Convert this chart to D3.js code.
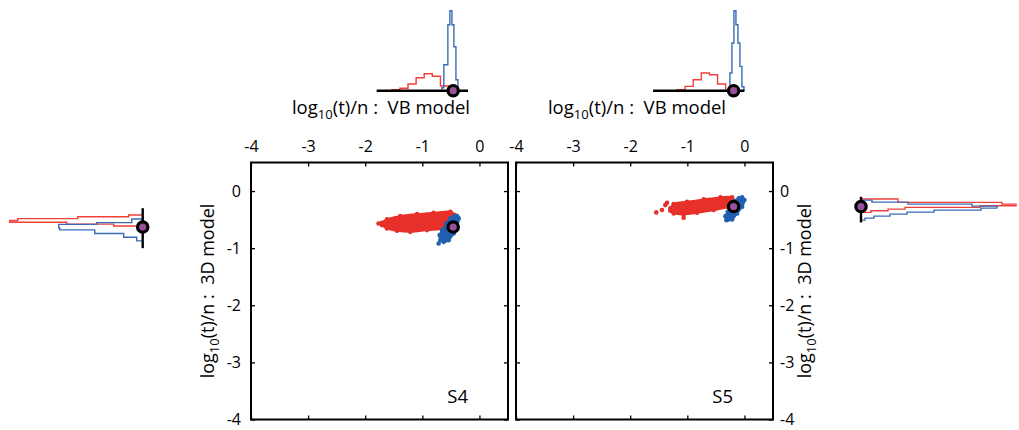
<!DOCTYPE html>
<html>
<head>
<meta charset="utf-8">
<script src="https://cdn.jsdelivr.net/npm/d3@7"></script>
<style>
  body { margin: 0; background: #fff; }
  svg { display: block; }
  text { font-family: "Open Sans", "Noto Sans", sans-serif; fill: #000; }
</style>
</head>
<body>
<svg id="chart" width="1019" height="430"></svg>
<script>
// ---- axis ticks ----
const tickValues = [-4, -3, -2, -1, 0];
const tickLabels = ["-4", "-3", "-2", "-1", "0"];
const panelNames = ["S4", "S5"];

// ---- posterior sample clouds: outline [VB, 3D] in log10(t)/n ----
const s4RedCloud = [[-1.707,-0.556],[-1.619,-0.496],[-1.386,-0.439],[-1.093,-0.404],[-0.802,-0.381],[-0.509,-0.363],[-0.433,-0.421],[-0.509,-0.567],[-0.626,-0.654],[-0.918,-0.684],[-1.211,-0.714],[-1.444,-0.696],[-1.619,-0.654],[-1.707,-0.596]];
const s4RedStray = [[-1.767,-0.567]];
const s4BlueCloud = [[-0.391,-0.439],[-0.363,-0.479],[-0.391,-0.626],[-0.451,-0.742],[-0.539,-0.860],[-0.626,-0.889],[-0.684,-0.860],[-0.696,-0.772],[-0.654,-0.684],[-0.579,-0.567],[-0.509,-0.479],[-0.439,-0.439]];
const s4BlueStray = [[-0.714,-0.918]];
const s5RedCloud = [[-1.298,-0.304],[-1.240,-0.228],[-1.005,-0.188],[-0.714,-0.146],[-0.421,-0.111],[-0.216,-0.111],[-0.198,-0.188],[-0.304,-0.275],[-0.539,-0.333],[-0.830,-0.381],[-1.065,-0.409],[-1.240,-0.391],[-1.298,-0.346]];
const s5RedStray = [[-1.544,-0.374],[-1.444,-0.333],[-1.386,-0.246],[-1.356,-0.205],[-1.065,-0.468]];
const s5BlueCloud = [[-0.040,-0.111],[0.000,-0.158],[-0.040,-0.275],[-0.128,-0.391],[-0.216,-0.496],[-0.316,-0.509],[-0.333,-0.439],[-0.293,-0.363],[-0.246,-0.275],[-0.158,-0.170],[-0.100,-0.128]];
const s5BlueStray = [];

// best-fit point [VB, 3D]
const s4Best = [-0.46, -0.63];
const s5Best = [-0.19, -0.27];

// ---- marginal histograms: bin edges and counts ----
const s4TopRedEdges = [-1.535,-1.393,-1.251,-1.109,-0.967,-0.825,-0.683,-0.541,-0.399];
const s4TopRedCounts = [1, 2.4, 6.7, 13, 17, 14.4, 4.7, 1];
const s4TopBlueEdges = [-0.658,-0.623,-0.588,-0.553,-0.518,-0.482,-0.447,-0.412,-0.377];
const s4TopBlueCounts = [3, 26, 26, 66, 80, 66, 44, 11];
const s5TopRedEdges = [-1.181,-1.039,-0.897,-0.755,-0.613,-0.471,-0.329];
const s5TopRedCounts = [1, 4.3, 11, 17.7, 16, 6.7];
const s5TopBlueEdges = [-0.254,-0.219,-0.184,-0.149,-0.114,-0.079,-0.044,-0.009];
const s5TopBlueCounts = [17.7, 47.7, 80, 66, 47.7, 24.3, 4];

const s4SideRedEdges = [-0.611,-0.579,-0.547,-0.515,-0.483,-0.451,-0.419];
const s4SideRedCounts = [29, 76, 133, 125, 65, 14];
const s4SideBlueEdges = [-0.872,-0.840,-0.808,-0.776,-0.744,-0.712,-0.680,-0.648,-0.616,-0.584,-0.552,-0.520,-0.488];
const s4SideBlueCounts = [6, 6, 19, 19, 48, 48, 83, 84, 84, 46, 11, 11];
const s5SideRedEdges = [-0.374,-0.345,-0.316,-0.286,-0.257,-0.228,-0.199,-0.170,-0.140];
const s5SideRedCounts = [10, 27, 44, 119, 155, 141, 37, 37];
const s5SideBlueEdges = [-0.509,-0.474,-0.439,-0.404,-0.369,-0.334,-0.299,-0.264,-0.229,-0.194,-0.159];
const s5SideBlueCounts = [4, 13, 29, 46, 73, 120, 136, 111, 47, 11];

// histogram axis spans
const s4TopSpan = [-1.8, -0.2];
const s5TopSpan = [-1.6, 0.0];
const s4SideSpan = [-1.0, -0.3];
const s5SideSpan = [-0.55, -0.1];

// ---- styling ----
const RED = "#e8302a", BLUE = "#2160ae";
const RED_LINE = "#f0403a", BLUE_LINE = "#3a6db6";
const PURPLE = "#9a4f9b";

const svg = d3.select("#chart");
const domain = [-4, 0.5];
const size = 257, panelTop = 162.5;
const yScale = d3.scaleLinear().domain(domain).range([panelTop + size, panelTop]);
const xLeft = d3.scaleLinear().domain(domain).range([251, 251 + size]);
const xRight = d3.scaleLinear().domain(domain).range([516, 516 + size]);

// vertical count scale for the top histograms, horizontal for the side ones
const topBase = 90.7;
const topCount = d3.scaleLinear().domain([0, 80]).range([topBase, topBase - 80]);
const leftCount = d3.scaleLinear().domain([0, 133]).range([142.7, 142.7 - 133]);
const rightCount = d3.scaleLinear().domain([0, 155]).range([861, 861 + 155]);

function stepPoints(edges, counts) {
  const pts = [[edges[0], 0]];
  counts.forEach((c, i) => { pts.push([edges[i], c]); pts.push([edges[i + 1], c]); });
  pts.push([edges[edges.length - 1], 0]);
  return pts;
}

function topHist(x, edges, counts, color) {
  const line = d3.line().x(d => x(d[0])).y(d => topCount(d[1]));
  svg.append("path").attr("d", line(stepPoints(edges, counts)))
    .attr("fill", "none").attr("stroke", color).attr("stroke-width", 1.4);
}
function sideHist(cnt, edges, counts, color) {
  const line = d3.line().x(d => cnt(d[1])).y(d => yScale(d[0]));
  svg.append("path").attr("d", line(stepPoints(edges, counts)))
    .attr("fill", "none").attr("stroke", color).attr("stroke-width", 1.4);
}
function marker(cx, cy) {
  svg.append("circle").attr("cx", cx).attr("cy", cy).attr("r", 5.2)
    .attr("fill", PURPLE).attr("stroke", "#000").attr("stroke-width", 3.2);
}

function cloud(x, outline, stray, color) {
  const g = svg.append("g");
  const area = d3.line().x(d => x(d[0])).y(d => yScale(d[1]))
    .curve(d3.curveCatmullRomClosed.alpha(0.5));
  g.append("path").attr("d", area(outline)).attr("fill", color)
    .attr("stroke", color).attr("stroke-width", 2);
  g.selectAll("circle").data(outline.concat(stray)).join("circle")
    .attr("cx", d => x(d[0])).attr("cy", d => yScale(d[1])).attr("r", 2.3)
    .attr("fill", color);
}

function panel(x, name, red, redStray, blue, blueStray, best, labelSide) {
  const x0 = x.range()[0], x1 = x.range()[1];
  const y0 = panelTop, y1 = panelTop + size;

  cloud(x, red, redStray, RED);
  cloud(x, blue, blueStray, BLUE);
  marker(x(best[0]), yScale(best[1]));

  // frame with inward ticks on every side
  const fmt = (d, i) => tickLabels[i];
  svg.append("g").attr("transform", `translate(0,${y0})`)
    .call(d3.axisTop(x).tickValues(tickValues).tickFormat(fmt).tickSizeInner(-4).tickSizeOuter(0).tickPadding(11));
  svg.append("g").attr("transform", `translate(0,${y1})`)
    .call(d3.axisBottom(x).tickValues(tickValues).tickFormat("").tickSizeInner(-4).tickSizeOuter(0));
  svg.append("g").attr("transform", `translate(${x0},0)`)
    .call(d3.axisLeft(yScale).tickValues(tickValues).tickFormat(labelSide === "left" ? fmt : "").tickSizeInner(-4).tickSizeOuter(0).tickPadding(10));
  svg.append("g").attr("transform", `translate(${x1},0)`)
    .call(d3.axisRight(yScale).tickValues(tickValues).tickFormat(labelSide === "right" ? fmt : "").tickSizeInner(-4).tickSizeOuter(0).tickPadding(7));
  svg.selectAll(".domain").remove();
  svg.selectAll(".tick line").attr("stroke", "#000").attr("stroke-width", 1.3);
  svg.selectAll(".tick text").style("font-size", "16px").style("font-family", '"Open Sans", sans-serif');

  svg.append("rect").attr("x", x0).attr("y", y0).attr("width", x1 - x0).attr("height", y1 - y0)
    .attr("fill", "none").attr("stroke", "#000").attr("stroke-width", 2);

  svg.append("text").attr("x", x(-0.2)).attr("y", yScale(-3.6) + 6)
    .attr("text-anchor", "end").style("font-size", "18.5px").text(name);
}

function vbLabel(cx) {
  const t = svg.append("text").attr("x", cx).attr("y", 114)
    .attr("text-anchor", "middle").style("font-size", "18.5px");
  t.append("tspan").text("log");
  t.append("tspan").attr("dy", 5).style("font-size", "13px").text("10");
  t.append("tspan").attr("dy", -5).text("(t)/n :\u00a0 VB model");
}
function tdLabel(cx) {
  const t = svg.append("text")
    .attr("transform", `translate(${cx},${panelTop + size / 2}) rotate(-90)`)
    .attr("text-anchor", "middle").style("font-size", "18px");
  t.append("tspan").text("log");
  t.append("tspan").attr("dy", 5).style("font-size", "13px").text("10");
  t.append("tspan").attr("dy", -5).text("(t)/n :\u00a0 3D model");
}

// ---- S4 ----
panel(xLeft, panelNames[0], s4RedCloud, s4RedStray, s4BlueCloud, s4BlueStray, s4Best, "left");
topHist(xLeft, s4TopRedEdges, s4TopRedCounts, RED_LINE);
topHist(xLeft, s4TopBlueEdges, s4TopBlueCounts, BLUE_LINE);
svg.append("line").attr("x1", xLeft(s4TopSpan[0])).attr("x2", xLeft(s4TopSpan[1]))
  .attr("y1", topBase).attr("y2", topBase).attr("stroke", "#000").attr("stroke-width", 2.4);
marker(xLeft(s4Best[0]), topBase);
sideHist(leftCount, s4SideRedEdges, s4SideRedCounts, RED_LINE);
sideHist(leftCount, s4SideBlueEdges, s4SideBlueCounts, BLUE_LINE);
svg.append("line").attr("x1", leftCount(0)).attr("x2", leftCount(0))
  .attr("y1", yScale(s4SideSpan[0])).attr("y2", yScale(s4SideSpan[1])).attr("stroke", "#000").attr("stroke-width", 2.4);
marker(leftCount(0), yScale(s4Best[1]));

// ---- S5 ----
panel(xRight, panelNames[1], s5RedCloud, s5RedStray, s5BlueCloud, s5BlueStray, s5Best, "right");
topHist(xRight, s5TopRedEdges, s5TopRedCounts, RED_LINE);
topHist(xRight, s5TopBlueEdges, s5TopBlueCounts, BLUE_LINE);
svg.append("line").attr("x1", xRight(s5TopSpan[0])).attr("x2", xRight(s5TopSpan[1]))
  .attr("y1", topBase).attr("y2", topBase).attr("stroke", "#000").attr("stroke-width", 2.4);
marker(xRight(s5Best[0]), topBase);
sideHist(rightCount, s5SideRedEdges, s5SideRedCounts, RED_LINE);
sideHist(rightCount, s5SideBlueEdges, s5SideBlueCounts, BLUE_LINE);
svg.append("line").attr("x1", rightCount(0)).attr("x2", rightCount(0))
  .attr("y1", yScale(s5SideSpan[0])).attr("y2", yScale(s5SideSpan[1])).attr("stroke", "#000").attr("stroke-width", 2.4);
marker(rightCount(0), yScale(s5Best[1]));

// axis titles
vbLabel(381);
vbLabel(637);
tdLabel(214);
tdLabel(811);
</script>
</body>
</html>
